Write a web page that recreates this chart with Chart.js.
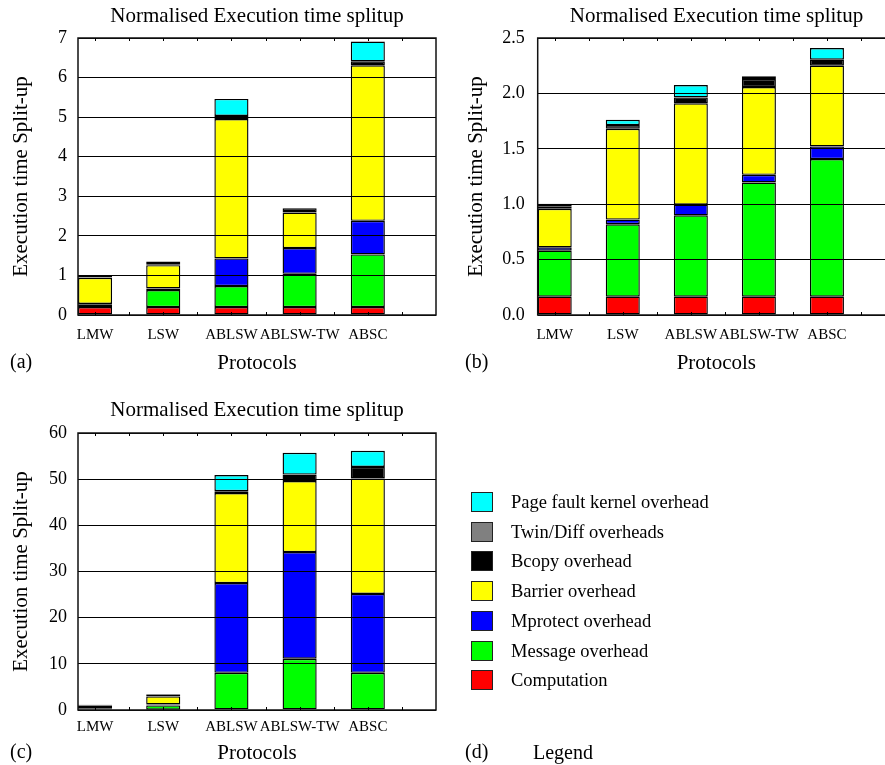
<!DOCTYPE html>
<html>
<head>
<meta charset="utf-8">
<script src="https://cdn.jsdelivr.net/npm/chart.js@4/dist/chart.umd.min.js"></script>
<style>
html,body{margin:0;padding:0;background:#fff;}
body{width:885px;height:765px;overflow:hidden;position:relative;font-family:"Liberation Serif","Times New Roman",serif;color:#000;}
canvas{position:absolute;}
.lbl{position:absolute;font-size:20px;line-height:20px;white-space:nowrap;}
.ttl{position:absolute;width:400px;text-align:center;font-size:21px;line-height:21px;white-space:nowrap;}
.lrow{position:absolute;left:471px;height:20px;}
.lbox{position:absolute;left:0;top:0;width:20px;height:18px;border:1px solid #222;}
.ltxt{position:absolute;left:40px;top:0;font-size:18.5px;line-height:20px;white-space:nowrap;}
</style>
</head>
<body>
<canvas id="ca" width="514" height="385" style="left:0;top:0"></canvas>
<canvas id="cb" width="553" height="385" style="left:440px;top:0"></canvas>
<canvas id="cc" width="514" height="385" style="left:0;top:395px"></canvas>
<div class="ttl" id="ta" style="left:57px;top:5px"></div>
<div class="ttl" id="tb" style="left:516.5px;top:5px"></div>
<div class="ttl" id="tc" style="left:57px;top:399px"></div>
<div class="lbl" style="left:10px;top:351px">(a)</div>
<div class="lbl" style="left:465px;top:351px">(b)</div>
<div class="lbl" style="left:10px;top:741px">(c)</div>
<div class="lbl" style="left:465px;top:741px">(d)</div>
<div class="lbl" style="left:533px;top:742px">Legend</div>
<div id="legend"></div>
<script>
// ---- shared ----
const categories = ['LMW', 'LSW', 'ABLSW', 'ABLSW-TW', 'ABSC'];
const seriesNames = ['Computation', 'Message overhead', 'Mprotect overhead', 'Barrier overhead',
                     'Bcopy overhead', 'Twin/Diff overheads', 'Page fault kernel overhead'];
const seriesColors = ['#ff0000', '#00ff00', '#0000ff', '#ffff00', '#000000', '#808080', '#00ffff'];
const chartTitle = 'Normalised Execution time splitup';
const xTitle = 'Protocols';
const yTitle = 'Execution time Split-up';

// ---- panel (a) ----
const yTicksA = [0, 1, 2, 3, 4, 5, 6, 7];
const computationA = [0.20, 0.20, 0.20, 0.20, 0.20];
const messageA     = [0.06, 0.43, 0.53, 0.84, 1.33];
const mprotectA    = [0.02, 0.04, 0.70, 0.65, 0.85];
const barrierA     = [0.66, 0.59, 3.52, 0.90, 3.93];
const bcopyA       = [0.01, 0.02, 0.08, 0.11, 0.10];
const twinDiffA    = [0, 0, 0, 0, 0];
const pageFaultA   = [0.05, 0.07, 0.43, 0, 0.50];

// ---- panel (b) ----
const yTicksB = [0, 0.5, 1.0, 1.5, 2.0, 2.5];
const computationB = [0.165, 0.165, 0.165, 0.165, 0.165];
const messageB     = [0.416, 0.654, 0.735, 1.031, 1.242];
const mprotectB    = [0.030, 0.042, 0.097, 0.069, 0.114];
const barrierB     = [0.347, 0.819, 0.913, 0.792, 0.729];
const bcopyB       = [0.020, 0.034, 0.054, 0.073, 0.054];
const twinDiffB    = [0, 0, 0, 0, 0];
const pageFaultB   = [0.025, 0.048, 0.111, 0.024, 0.105];

// ---- panel (c) ----
const yTicksC = [0, 10, 20, 30, 40, 50, 60];
const computationC = [0.10, 0.05, 0.15, 0.15, 0.15];
const messageC     = [0.30, 0.95, 7.90, 10.95, 7.90];
const mprotectC    = [0.05, 0.20, 19.45, 23.10, 17.10];
const barrierC     = [0.55, 1.75, 19.50, 15.40, 25.00];
const bcopyC       = [0.10, 0.40, 0.40, 1.40, 2.50];
const twinDiffC    = [0, 0, 0, 0, 0];
const pageFaultC   = [0.05, 0.10, 3.50, 4.70, 3.50];

['ta', 'tb', 'tc'].forEach(id => { document.getElementById(id).textContent = chartTitle; });

const framePlugin = {
  id: 'frame',
  afterDraw(chart) {
    const { ctx, chartArea: a, scales: { x } } = chart;
    ctx.save();
    ctx.strokeStyle = '#111';
    ctx.lineWidth = 1.5;
    ctx.strokeRect(a.left, a.top, a.right - a.left, a.bottom - a.top);
    ctx.lineWidth = 1;
    ctx.strokeStyle = '#000';
    ctx.beginPath();
    for (let v = 0; v < x.max; v += 0.5) {
      const px = Math.round(x.getPixelForValue(v)) + 0.5;
      ctx.moveTo(px, a.bottom); ctx.lineTo(px, a.bottom - 3);
      ctx.moveTo(px, a.top); ctx.lineTo(px, a.top + 3);
    }
    ctx.stroke();
    ctx.restore();
  }
};

function makeChart(id, series, yTicks, decimals, L) {
  const datasets = series.map((arr, s) => ({
    label: seriesNames[s],
    data: arr.map((v, i) => ({ x: i, y: v })),
    backgroundColor: seriesColors[s],
    borderColor: '#000',
    borderWidth: 1.4,
    borderSkipped: false,
    categoryPercentage: 1.0,
    barPercentage: 0.5
  }));
  return new Chart(document.getElementById(id), {
    type: 'bar',
    data: { datasets },
    plugins: [framePlugin],
    options: {
      responsive: false,
      animation: false,
      layout: { padding: { left: 0, right: L.padRight, top: 38, bottom: 0 } },
      plugins: {
        legend: { display: false },
        tooltip: { enabled: false },
        title: { display: false }
      },
      scales: {
        x: {
          type: 'linear', stacked: true, offset: false,
          min: -0.25, max: 5,
          afterBuildTicks: s => { s.ticks = categories.map((c, i) => ({ value: i })); },
          afterFit: s => { s.height = 70; },
          grid: { display: false, drawTicks: false },
          border: { display: false },
          ticks: {
            autoSkip: false, maxRotation: 0, color: '#000', padding: L.xPad,
            font: { family: 'Liberation Serif', size: 15 },
            callback: v => categories[v] !== undefined ? categories[v] : ''
          },
          title: {
            display: true, text: xTitle, color: '#000',
            font: { family: 'Liberation Serif', size: 21 },
            padding: { top: 0, bottom: L.xTitlePad }
          }
        },
        y: {
          stacked: true, min: 0, max: yTicks[yTicks.length - 1],
          afterBuildTicks: s => { s.ticks = yTicks.map(v => ({ value: v })); },
          afterFit: s => { s.width = L.yWidth; },
          grid: { color: '#000', lineWidth: 1, drawTicks: false, z: 1 },
          border: { display: false },
          ticks: {
            color: '#000', padding: L.yPad,
            font: { family: 'Liberation Serif', size: 18 },
            callback: v => Number(v).toFixed(decimals)
          },
          title: {
            display: true, text: yTitle, color: '#000',
            font: { family: 'Liberation Serif', size: 21 },
            padding: { top: L.yTitlePad, bottom: 0 }
          }
        }
      }
    }
  });
}

makeChart('ca', [computationA, messageA, mprotectA, barrierA, bcopyA, twinDiffA, pageFaultA], yTicksA, 0,
  { padRight: 78, yWidth: 78, yPad: 11, yTitlePad: 9, xPad: 11, xTitlePad: 9.4 });
makeChart('cb', [computationB, messageB, mprotectB, barrierB, bcopyB, twinDiffB, pageFaultB], yTicksB, 1,
  { padRight: 98, yWidth: 97.7, yPad: 13, yTitlePad: 23.7, xPad: 11, xTitlePad: 9.4 });
makeChart('cc', [computationC, messageC, mprotectC, barrierC, bcopyC, twinDiffC, pageFaultC], yTicksC, 0,
  { padRight: 78, yWidth: 78, yPad: 11, yTitlePad: 9, xPad: 8.5, xTitlePad: 14 });

// ---- legend panel (d) ----
const legend = document.getElementById('legend');
const order = seriesNames.map((n, i) => i).reverse();
order.forEach((s, r) => {
  const row = document.createElement('div');
  row.className = 'lrow';
  row.style.top = (492 + r * 29.7) + 'px';
  const box = document.createElement('div');
  box.className = 'lbox';
  box.style.background = seriesColors[s];
  const txt = document.createElement('div');
  txt.className = 'ltxt';
  txt.textContent = seriesNames[s];
  row.appendChild(box); row.appendChild(txt);
  legend.appendChild(row);
});
</script>
</body>
</html>
